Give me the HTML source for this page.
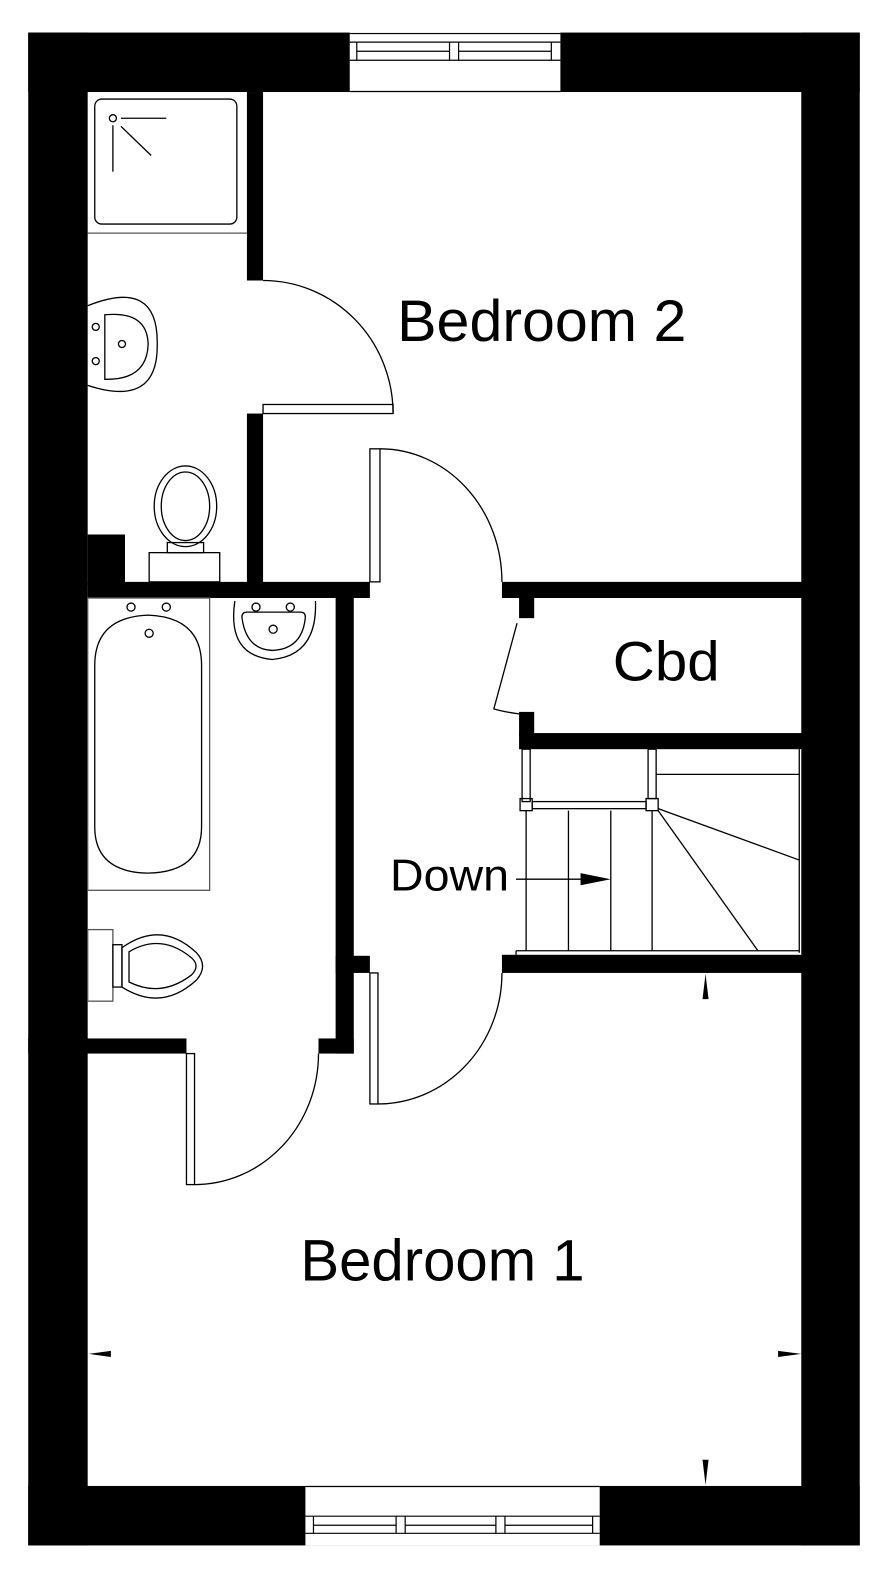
<!DOCTYPE html>
<html><head><meta charset="utf-8"><style>
html,body{margin:0;padding:0;background:#fff;}
svg{display:block;}
text{font-family:"Liberation Sans",sans-serif;fill:#000;}
</style></head><body>
<svg width="893" height="1579" viewBox="0 0 886 1566" xmlns="http://www.w3.org/2000/svg">
<g fill="#000">
<rect x="28" y="32" width="825" height="59"/>
<rect x="28" y="1474" width="825" height="59"/>
<rect x="28" y="32" width="59" height="1501"/>
<rect x="795" y="32" width="58" height="1501"/>
<rect x="245" y="91" width="16" height="187"/>
<rect x="245" y="410" width="16" height="183"/>
<rect x="87" y="530" width="37" height="50"/>
<rect x="87" y="577" width="280" height="16"/>
<rect x="498" y="577" width="300" height="16"/>
<rect x="515" y="593" width="15" height="20"/>
<rect x="515" y="706" width="15" height="24"/>
<rect x="515" y="727" width="283" height="16"/>
<rect x="498" y="947" width="300" height="18"/>
<rect x="333" y="593" width="18" height="452"/>
<rect x="333" y="948" width="34" height="17"/>
<rect x="28" y="1030" width="157" height="15"/>
<rect x="316" y="1030" width="35" height="15"/>
</g>
<g fill="#fff" stroke="#000" stroke-width="1.2">
<rect x="347" y="32" width="209" height="59" stroke="none"/>
<line x1="347" y1="33" x2="556" y2="33"/>
<line x1="347" y1="41.5" x2="556" y2="41.5"/>
<line x1="354" y1="50.5" x2="446" y2="50.5"/>
<line x1="455" y1="50.5" x2="547" y2="50.5"/>
<line x1="347" y1="59.5" x2="556" y2="59.5"/>
<line x1="347" y1="90.5" x2="556" y2="90.5"/>
<line x1="354" y1="41.5" x2="354" y2="59.5"/>
<line x1="446" y1="41.5" x2="446" y2="59.5"/>
<line x1="455" y1="41.5" x2="455" y2="59.5"/>
<line x1="547" y1="41.5" x2="547" y2="59.5"/>
<rect x="303" y="1474" width="292" height="59" stroke="none"/>
<line x1="303" y1="1474.5" x2="595" y2="1474.5"/>
<line x1="303" y1="1504" x2="595" y2="1504"/>
<line x1="311" y1="1513" x2="393" y2="1513"/>
<line x1="402" y1="1513" x2="492" y2="1513"/>
<line x1="501" y1="1513" x2="588" y2="1513"/>
<line x1="303" y1="1521" x2="595" y2="1521"/>
<line x1="311" y1="1504" x2="311" y2="1521"/>
<line x1="393" y1="1504" x2="393" y2="1521"/>
<line x1="402" y1="1504" x2="402" y2="1521"/>
<line x1="492" y1="1504" x2="492" y2="1521"/>
<line x1="501" y1="1504" x2="501" y2="1521"/>
<line x1="588" y1="1504" x2="588" y2="1521"/>
</g>
<g fill="none" stroke="#000" stroke-width="1.3">
<rect x="94" y="98" width="141" height="124" rx="7"/>
<line x1="87" y1="231" x2="245" y2="231" stroke="#555"/>
<circle cx="112" cy="117" r="3.5"/>
<line x1="120" y1="117" x2="165" y2="117"/>
<line x1="112" y1="124" x2="112" y2="170"/>
<line x1="120" y1="125" x2="150" y2="154"/>
<path d="M87 303 Q157 275 156 341 Q157 405 87 382"/>
<path d="M104 312 Q146 308 147 341 Q146 377 104 376 Z"/>
<circle cx="95" cy="324" r="3.5"/><circle cx="95" cy="358" r="3.5"/><circle cx="121" cy="341" r="3.5"/>
<ellipse cx="184" cy="502" rx="31" ry="40"/>
<ellipse cx="184" cy="502" rx="24" ry="34"/>
<rect x="166" y="538" width="36" height="10"/>
<rect x="148" y="548" width="70" height="29"/>
<rect x="261" y="401" width="129" height="9"/>
<path d="M261 278 A129 132 0 0 1 390 410"/>
<rect x="367" y="445" width="10" height="132"/>
<path d="M377 445 A121 132 0 0 1 498 577"/>
<path d="M513 618 L490 703 Q500 706 515 708"/>
<rect x="87" y="593" width="121" height="290" stroke="#555"/>
<path d="M94 660 Q94 612 147 610 Q200 612 200 660 L200 820 Q200 865 147 866 Q94 865 94 820 Z"/>
<circle cx="130" cy="602" r="4"/><circle cx="165" cy="602" r="4"/><circle cx="148" cy="628" r="4"/>
<path d="M233 596 Q225 650 270 654 Q315 650 313 596"/>
<path d="M240 612 Q244 644 270 645 Q300 644 303 612 Q303 607 298 607 L245 607 Q240 607 240 612 Z"/>
<circle cx="254" cy="602" r="4"/><circle cx="288" cy="602" r="4"/><circle cx="271" cy="624" r="4"/>
<rect x="87" y="922" width="25" height="71" stroke="#555"/>
<rect x="112" y="937" width="9" height="42"/>
<path d="M121 940 Q160 912 195 945 Q207 958 195 972 Q160 1004 121 979 Z"/>
<path d="M128 944 Q160 925 190 950 Q199 958 190 967 Q160 990 128 974 Z"/>
<rect x="185" y="1045" width="8" height="130"/>
<path d="M193 1175 A123 130 0 0 0 316 1045"/>
<rect x="367" y="965" width="8" height="130"/>
<path d="M375 1095 A123 130 0 0 0 498 965"/>
<line x1="512" y1="943" x2="793" y2="943"/>
<line x1="512" y1="943" x2="512" y2="947"/>
<line x1="793" y1="743" x2="793" y2="945"/>
<rect x="518" y="743" width="8" height="52"/>
<rect x="516" y="792" width="12" height="12"/>
<rect x="641" y="792" width="12" height="12"/>
<rect x="528" y="795" width="113" height="7"/>
<rect x="643" y="743" width="8" height="49"/>
<line x1="651" y1="768" x2="793" y2="768"/>
<line x1="522" y1="804" x2="522" y2="943"/>
<line x1="564" y1="804" x2="564" y2="943"/>
<line x1="606" y1="804" x2="606" y2="943"/>
<line x1="647" y1="804" x2="647" y2="943"/>
<line x1="653" y1="802" x2="793" y2="853"/>
<line x1="653" y1="804" x2="752" y2="943"/>
<line x1="512" y1="872" x2="580" y2="872"/>
</g>
<polygon points="576,866 606,872 576,878" fill="#000"/>
<polygon points="697,991 700,966 703,991" fill="#000"/>
<polygon points="697,1448 700,1473 703,1448" fill="#000"/>
<polygon points="88,1343 110,1340 110,1346" fill="#000"/>
<polygon points="795,1343 772,1340 772,1346" fill="#000"/>
<text x="394" y="338" font-size="58" textLength="287" lengthAdjust="spacingAndGlyphs">Bedroom 2</text>
<text x="608" y="675" font-size="55" textLength="106" lengthAdjust="spacingAndGlyphs">Cbd</text>
<text x="387" y="883" font-size="44" textLength="118" lengthAdjust="spacingAndGlyphs">Down</text>
<text x="298" y="1270" font-size="58" textLength="282" lengthAdjust="spacingAndGlyphs">Bedroom 1</text>
</svg>
</body></html>
